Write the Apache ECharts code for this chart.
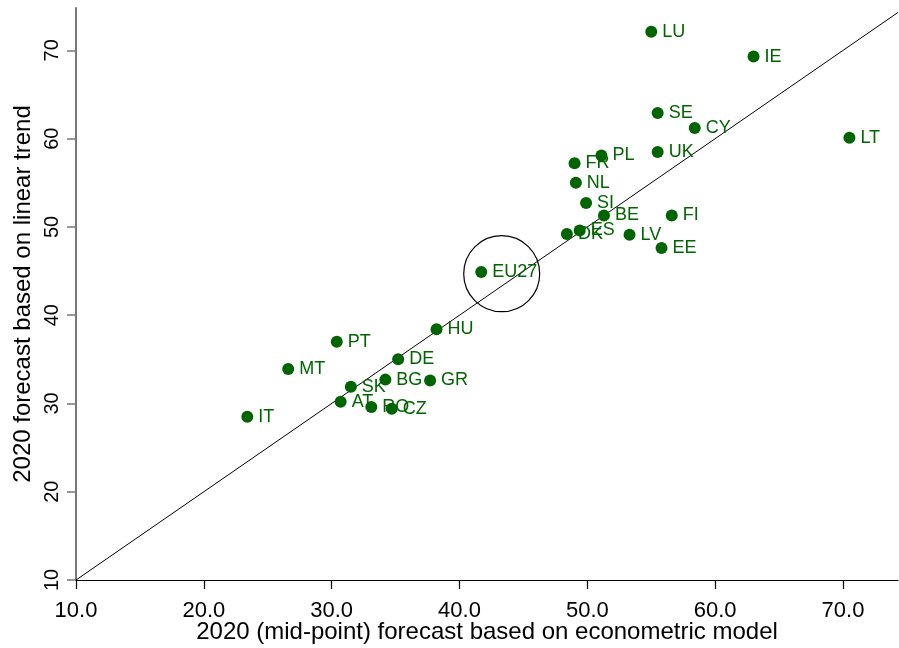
<!DOCTYPE html>
<html>
<head>
<meta charset="utf-8">
<script src="https://cdn.jsdelivr.net/npm/echarts@6/dist/echarts.min.js"></script>
<style>
html,body{margin:0;padding:0;background:#fff;}
#chart{width:899px;height:648px;}
</style>
</head>
<body>
<div id="chart"></div>
<script>
// Country codes
const countries = ['LU','IE','SE','CY','LT','UK','PL','FR','NL','SI','BE','FI','DK','ES','LV','EE','EU27','HU','PT','MT','DE','BG','GR','SK','AT','RO','CZ','IT'];
// 2020 (mid-point) forecast based on econometric model
const modelForecast = [55.0,63.0,55.5,58.4,70.5,55.5,51.1,49.0,49.1,49.9,51.3,56.6,48.4,49.4,53.3,55.8,41.7,38.2,30.4,26.6,35.2,34.2,37.7,31.5,30.7,33.1,34.7,23.4];
// 2020 forecast based on linear trend
const trendForecast = [72.1,69.3,62.9,61.2,60.1,58.5,58.1,57.2,55.0,52.7,51.3,51.3,49.2,49.6,49.1,47.6,44.9,38.4,37.0,33.9,35.0,32.7,32.6,31.9,30.2,29.6,29.4,28.5];
// Tick values
const xTicks = [10,20,30,40,50,60,70];
const yTicks = [10,20,30,40,50,60,70];
// 45-degree reference line ends
const diagonal = [[10,10],[74.3,74.3]];
// Highlight circle centre
const circleCenter = [[43.3,44.7]];

const green = '#006400';
const points = countries.map((c,i)=>({name:c, value:[modelForecast[i], trendForecast[i]]}));

const chart = echarts.init(document.getElementById('chart'), null, {renderer:'canvas'});
chart.setOption({
  animation:false,
  backgroundColor:'#fff',
  textStyle:{fontFamily:'Liberation Sans'},
  grid:{left:76, right:1, top:8, bottom:68, containLabel:false, outerBoundsMode:'none'},
  xAxis:{
    type:'value', min:10, max:74.3,
    name:'2020 (mid-point) forecast based on econometric model',
    nameLocation:'middle', nameGap:40, nameMoveOverlap:false,
    nameTextStyle:{fontSize:24, color:'#000', fontFamily:'Liberation Sans'},
    axisLine:{show:true, onZero:false, lineStyle:{color:'#000', width:1.2}},
    axisTick:{show:true, length:9, customValues:xTicks, lineStyle:{color:'#000', width:1.2}},
    axisLabel:{show:true, customValues:xTicks, margin:20, fontSize:22, color:'#000', fontFamily:'Liberation Sans', formatter:v=>v.toFixed(1)},
    splitLine:{show:false}
  },
  yAxis:{
    type:'value', min:10, max:74.8,
    name:'2020 forecast based on linear trend',
    nameLocation:'middle', nameGap:41, nameRotate:90, nameMoveOverlap:false,
    nameTextStyle:{fontSize:24, color:'#000', fontFamily:'Liberation Sans'},
    axisLine:{show:true, onZero:false, lineStyle:{color:'#777', width:2}},
    axisTick:{show:true, length:9, customValues:yTicks, lineStyle:{color:'#777', width:1.5}},
    axisLabel:{show:true, customValues:yTicks, rotate:90, margin:14, fontSize:20, color:'#000', fontFamily:'Liberation Sans'},
    splitLine:{show:false}
  },
  series:[
    {
      type:'line', data:diagonal, symbol:'none', silent:true,
      lineStyle:{color:'#000', width:1}, z:1
    },
    {
      type:'scatter', data:circleCenter, symbol:'circle', symbolSize:76, silent:true,
      itemStyle:{color:'rgba(0,0,0,0)', borderColor:'#000', borderWidth:1.2, opacity:1}, z:1
    },
    {
      type:'scatter', data:points, symbol:'circle', symbolSize:12,
      itemStyle:{color:green, opacity:1},
      label:{show:true, position:'right', distance:5, formatter:p=>p.name, color:green, fontSize:18, fontFamily:'Liberation Sans'},
      z:3
    }
  ]
});
</script>
</body>
</html>
